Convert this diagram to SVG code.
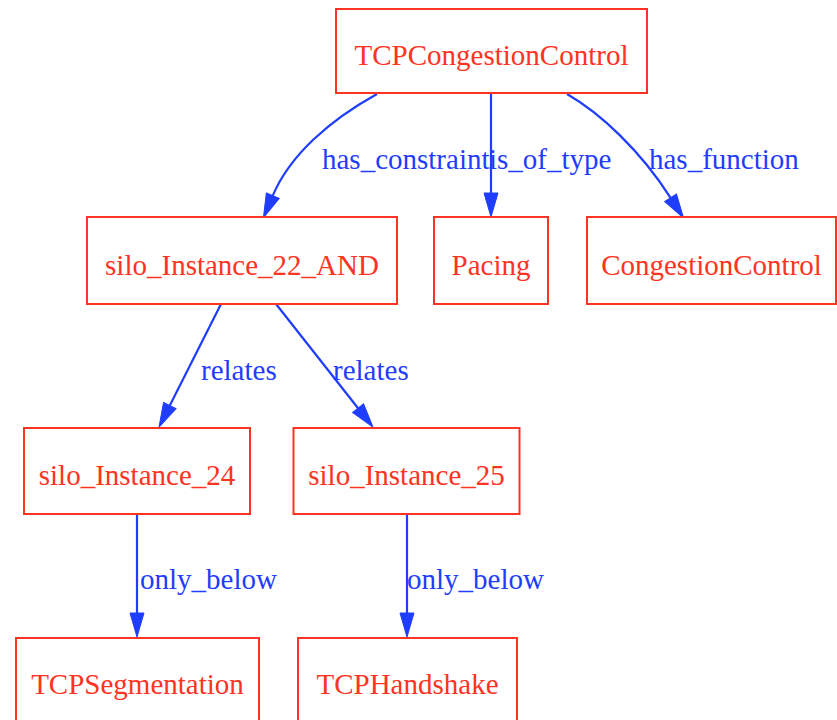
<svg xmlns="http://www.w3.org/2000/svg" width="837" height="720" viewBox="0 0 837 720">
  <defs>
    <style>
      .node rect { fill: #ffffff; stroke: #ff3322; stroke-width: 2; }
      .node text { fill: #ff3322; font-family: "Liberation Serif", "Times New Roman", serif; font-size: 29px; text-anchor: middle; }
      .edge path { fill: none; stroke: #1f3dff; stroke-width: 2.2; marker-end: url(#arrow); }
      .elabel { fill: #1f3dff; font-family: "Liberation Serif", "Times New Roman", serif; font-size: 29px; }
    </style>
    <marker id="arrow" markerUnits="userSpaceOnUse" markerWidth="24" markerHeight="14" refX="0" refY="7" orient="auto" overflow="visible">
      <path d="M0,0 L24,7 L0,14 Z" fill="#1f3dff" stroke="#1f3dff" stroke-width="1"/>
    </marker>
  </defs>
  <rect x="0" y="0" width="837" height="720" fill="#ffffff"/>

  <!-- connectors -->
  <g id="edges">
    <g class="edge" id="e_has_constraint">
      <path d="M377,94 C330,120 290,155 272.8,195.6"/>
      <text class="elabel" x="322" y="169">has_constraint</text>
    </g>
    <g class="edge" id="e_is_of_type">
      <path d="M491,94 L491,193"/>
      <text class="elabel" x="489" y="169">is_of_type</text>
    </g>
    <g class="edge" id="e_has_function">
      <path d="M567,94 C600,113 640,150 670.6,197.8"/>
      <text class="elabel" x="649" y="169">has_function</text>
    </g>
    <g class="edge" id="e_relates_24">
      <path d="M221,304 L169.8,405.6"/>
      <text class="elabel" x="201" y="380">relates</text>
    </g>
    <g class="edge" id="e_relates_25">
      <path d="M276,304 L358.1,408.2"/>
      <text class="elabel" x="333" y="380">relates</text>
    </g>
    <g class="edge" id="e_only_below_24">
      <path d="M137,514 L137,613"/>
      <text class="elabel" x="140" y="589">only_below</text>
    </g>
    <g class="edge" id="e_only_below_25">
      <path d="M407,514 L407,613"/>
      <text class="elabel" x="407" y="589">only_below</text>
    </g>
  </g>

  <!-- nodes -->
  <g class="node" id="TCPCongestionControl">
    <rect x="336" y="9" width="311" height="84"/>
    <text x="491.5" y="65">TCPCongestionControl</text>
  </g>
  <g class="node" id="silo_Instance_22_AND">
    <rect x="87" y="217" width="310" height="87"/>
    <text x="242" y="275">silo_Instance_22_AND</text>
  </g>
  <g class="node" id="Pacing">
    <rect x="434" y="217" width="114" height="87"/>
    <text x="491" y="275">Pacing</text>
  </g>
  <g class="node" id="CongestionControl">
    <rect x="587" y="217" width="249" height="87"/>
    <text x="711.5" y="275">CongestionControl</text>
  </g>
  <g class="node" id="silo_Instance_24">
    <rect x="24" y="428" width="226" height="86"/>
    <text x="137" y="485">silo_Instance_24</text>
  </g>
  <g class="node" id="silo_Instance_25">
    <rect x="293.5" y="428" width="226" height="86"/>
    <text x="406.5" y="485">silo_Instance_25</text>
  </g>
  <g class="node" id="TCPSegmentation">
    <rect x="16" y="638" width="243" height="86"/>
    <text x="137.5" y="694">TCPSegmentation</text>
  </g>
  <g class="node" id="TCPHandshake">
    <rect x="298" y="638" width="219" height="86"/>
    <text x="407.5" y="694">TCPHandshake</text>
  </g>
</svg>
